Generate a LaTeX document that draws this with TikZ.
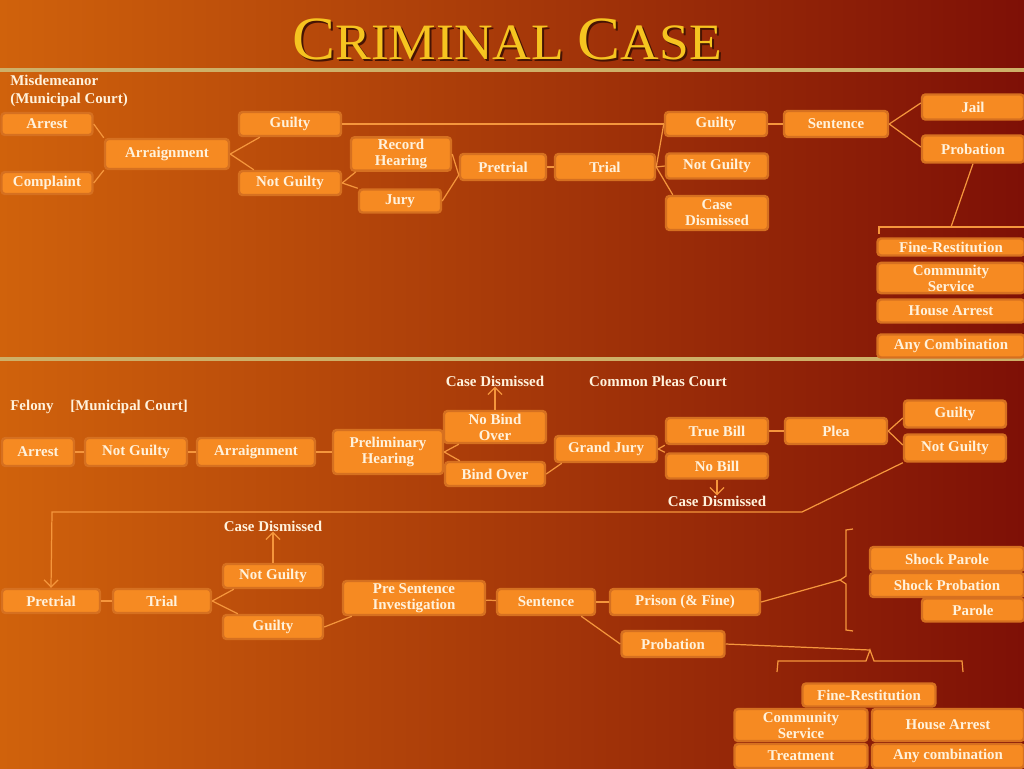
\documentclass[tikz,border=0pt]{standalone}
\usepackage{fontspec}
\setmainfont{Liberation Serif}
\usetikzlibrary{calc, arrows.meta}

\definecolor{bgL}{RGB}{208,98,12}
\definecolor{bgM}{RGB}{170,62,10}
\definecolor{bgR}{RGB}{126,16,6}
\definecolor{boxfill}{RGB}{246,138,34}
\definecolor{boxrim}{RGB}{214,112,32}
\definecolor{cream}{RGB}{255,242,220}
\definecolor{wirec}{RGB}{245,150,60}
\definecolor{gold}{RGB}{206,176,104}
\definecolor{titlegold}{RGB}{246,196,32}
\definecolor{titleshade}{RGB}{70,20,4}

\begin{document}
\begin{tikzpicture}[x=0.02cm, y=-0.02cm,
  box/.style={draw=boxrim, line width=1.4pt, fill=boxfill, rounded corners=2pt,
    text=cream, font=\bfseries\fontsize{8.5}{9.2}\selectfont, align=center, inner sep=1pt},
  bsz/.style 2 args={minimum width=#1*0.02cm, minimum height=#2*0.02cm},
  lab/.style={text=cream, font=\bfseries\fontsize{8.5}{10.2}\selectfont, inner sep=0pt},
  wire/.style={draw=wirec, line width=0.7pt},
  bar/.style={draw=gold, line width=0.08cm},
  >={Straight Barb[length=4pt, width=8pt]}]
  \useasboundingbox (0,0) rectangle (1024,768);
  \shade[left color=bgL, middle color=bgM, right color=bgR] (0,0) rectangle (1024,768);

  % title and dividers
  \foreach \dx/\col in {2/titleshade, 0/titlegold} {
    \node[text=\col, inner sep=0pt, anchor=base] at (507+\dx,59+\dx) {\scalebox{1.05}[1]{%
      \fontsize{35}{35}\selectfont C\fontsize{29}{29}\selectfont RIMINAL
      \fontsize{35}{35}\selectfont C\fontsize{29}{29}\selectfont ASE}};
  }
  \draw[bar] (0,70) -- (1024,70);
  \draw[bar] (0,359) -- (1024,359);

  % misdemeanor
  \node[lab, anchor=north west, align=left] (mlab) at (10,75) {Misdemeanor\\(Municipal Court)};
  \node[box, bsz={91}{22}]  (arrest1)   at (47,124)  {Arrest};
  \node[box, bsz={91}{22}]  (compl1)    at (47,183)  {Complaint};
  \node[box, bsz={124}{30}] (arraign1)  at (167,154) {Arraignment};
  \node[box, bsz={102}{24}] (guilty1)   at (290,124) {Guilty};
  \node[box, bsz={102}{24}] (notg1)     at (290,183) {Not Guilty};
  \node[box, bsz={100}{32}] (record1)   at (401,154) {Record\\Hearing};
  \node[box, bsz={82}{23}]  (jury1)     at (400,201) {Jury};
  \node[box, bsz={86}{26}]  (pretrial1) at (503,167) {Pretrial};
  \node[box, bsz={100}{26}] (trial1)    at (605,167) {Trial};
  \node[box, bsz={102}{24}] (guilty2)   at (716,124) {Guilty};
  \node[box, bsz={102}{25}] (notg2)     at (717,166) {Not Guilty};
  \node[box, bsz={102}{34}] (dism1)     at (717,213) {Case\\Dismissed};
  \node[box, bsz={104}{26}] (sent1)     at (836,124) {Sentence};
  \node[box, bsz={102}{25}] (jail1)     at (973,107) {Jail};
  \node[box, bsz={102}{27}] (prob1)     at (973,149) {Probation};
  \node[box, bsz={147}{17}] (fine1)     at (951,247) {Fine-Restitution};
  \node[box, bsz={147}{30}] (comm1)     at (951,278) {Community\\Service};
  \node[box, bsz={147}{23}] (house1)    at (951,311) {House Arrest};
  \node[box, bsz={147}{23}] (any1)      at (951,346) {Any Combination};

  \draw[wire] (arrest1.east) -- (arraign1.north west);
  \draw[wire] (compl1.east) -- (arraign1.south west);
  \draw[wire] (arraign1.east) -- ($(guilty1.south west)+(22,0)$);
  \draw[wire] (arraign1.east) -- ($(notg1.north west)+(16,0)$);
  \draw[wire] (guilty1.east) -- (guilty2.west);
  \draw[wire] (notg1.east) -- ($(record1.south west)+(6,0)$);
  \draw[wire] (notg1.east) -- (jury1.north west);
  \draw[wire] (record1.east) -- ($(pretrial1.west)+(0,8)$);
  \draw[wire] (jury1.east) -- ($(pretrial1.west)+(0,8)$);
  \draw[wire] (pretrial1) -- (trial1);
  \draw[wire] (trial1.east) -- (guilty2.west);
  \draw[wire] (trial1.east) -- (notg2.west);
  \draw[wire] (trial1.east) -- ($(dism1.north west)+(8,0)$);
  \draw[wire] (guilty2) -- (sent1);
  \draw[wire] (sent1.east) -- ($(jail1.west)+(0,-4)$);
  \draw[wire] (sent1.east) -- ($(prob1.west)+(0,-2)$);
  % bracket over the probation options
  \coordinate (br1) at (951,227);
  \draw[wire] (prob1.south) -- (br1);
  \draw[wire] (879,234) -- (879,227) -- (1024,227);

  % felony
  \node[lab] (dlab1) at (495,381) {Case Dismissed};
  \node[lab] (cpc)   at (658,381) {Common Pleas Court};
  \node[lab, anchor=west] (flab)  at (10,407) {Felony};
  \node[lab, anchor=west] (mclab) at (70,407) {[Municipal Court]};
  \node[box, bsz={72}{28}]  (arrest2)  at (38,452)  {Arrest};
  \node[box, bsz={102}{28}] (notg3)    at (136,452) {Not Guilty};
  \node[box, bsz={118}{28}] (arraign2) at (256,452) {Arraignment};
  \node[box, bsz={110}{44}] (prelim)   at (388,452) {Preliminary\\Hearing};
  \node[box, bsz={102}{32}] (nobind)   at (495,427) {No Bind\\Over};
  \node[box, bsz={100}{24}] (bind)     at (495,474) {Bind Over};
  \node[box, bsz={102}{26}] (grand)    at (606,449) {Grand Jury};
  \node[box, bsz={102}{26}] (truebill) at (717,431) {True Bill};
  \node[box, bsz={102}{25}] (nobill)   at (717,466) {No Bill};
  \node[lab] (dlab2) at (717,501) {Case Dismissed};
  \node[box, bsz={102}{26}] (plea)     at (836,431) {Plea};
  \node[box, bsz={102}{27}] (guilty3)  at (955,414) {Guilty};
  \node[box, bsz={102}{27}] (notg4)    at (955,448) {Not Guilty};

  \draw[wire] (arrest2) -- (notg3);
  \draw[wire] (notg3) -- (arraign2);
  \draw[wire] (arraign2) -- (prelim);
  \draw[wire] (prelim.east) -- ($(nobind.south west)+(16,0)$);
  \draw[wire] (prelim.east) -- ($(bind.north west)+(16,0)$);
  \draw[wire, ->] (nobind.north) -- (dlab1.south);
  \draw[wire] (bind.east) -- ($(grand.south west)+(8,0)$);
  \draw[wire] (grand.east) -- (truebill.south west);
  \draw[wire] (grand.east) -- (nobill.north west);
  \draw[wire, ->] (nobill.south) -- (dlab2.north);
  \draw[wire] (truebill) -- (plea);
  \draw[wire] (plea.east) -- ($(guilty3.west)+(0,4)$);
  \draw[wire] (plea.east) -- ($(notg4.west)+(0,-3)$);

  \node[box, bsz={98}{24}]  (pretrial2) at (51,601)  {Pretrial};
  \node[box, bsz={98}{24}]  (trial2)    at (162,601) {Trial};
  \node[box, bsz={100}{24}] (notg5)     at (273,576) {Not Guilty};
  \node[box, bsz={100}{24}] (guilty4)   at (273,627) {Guilty};
  \node[lab] (dlab3) at (273,526) {Case Dismissed};
  \node[box, bsz={142}{34}] (psi)       at (414,598) {Pre Sentence\\Investigation};
  \node[box, bsz={98}{26}]  (sent2)     at (546,602) {Sentence};
  \node[box, bsz={150}{26}] (prison)    at (685,602) {Prison (\& Fine)};
  \node[box, bsz={103}{26}] (prob2)     at (673,644) {Probation};
  \node[box, bsz={154}{24}] (shockpar)  at (947,559) {Shock Parole};
  \node[box, bsz={154}{24}] (shockprob) at (947,585) {Shock Probation};
  \node[box, bsz={102}{23}] (parole)    at (973,610) {Parole};
  \node[box, bsz={133}{23}] (fine2)     at (869,695) {Fine-Restitution};
  \node[box, bsz={133}{32}] (comm2)     at (801,725) {Community\\Service};
  \node[box, bsz={152}{32}] (house2)    at (948,725) {House Arrest};
  \node[box, bsz={133}{24}] (treat)     at (801,756) {Treatment};
  \node[box, bsz={152}{24}] (any2)      at (948,756) {Any combination};

  % back to the left for the trial
  \coordinate (bendR) at (802,512);
  \coordinate (bendL) at (52,512);
  \draw[wire, ->] (notg4.south west) -- (bendR) -- (bendL) -- (pretrial2.north);

  \draw[wire] (pretrial2) -- (trial2);
  \draw[wire] (trial2.east) -- ($(notg5.south west)+(12,0)$);
  \draw[wire] (trial2.east) -- ($(guilty4.north west)+(16,0)$);
  \draw[wire, ->] (notg5.north) -- (dlab3.south);
  \draw[wire] (guilty4.east) -- ($(psi.south west)+(10,0)$);
  \draw[wire] (psi) -- (sent2);
  \draw[wire] (sent2) -- (prison);
  \draw[wire] ($(sent2.south east)+(-15,0)$) -- (prob2.west);
  % brackets
  \coordinate (br2) at (840,580);
  \draw[wire] (prison.east) -- (br2);
  \draw[wire] (853,529) -- (846,530) -- (846,576) -- (br2) -- (846,584) -- (846,630) -- (853,631);
  \coordinate (br3) at (870,650);
  \draw[wire] (prob2.east) -- (br3);
  \draw[wire] (777,672) -- (778,661) -- (866,661) -- (br3) -- (874,661) -- (962,661) -- (963,672);
\end{tikzpicture}
\end{document}
